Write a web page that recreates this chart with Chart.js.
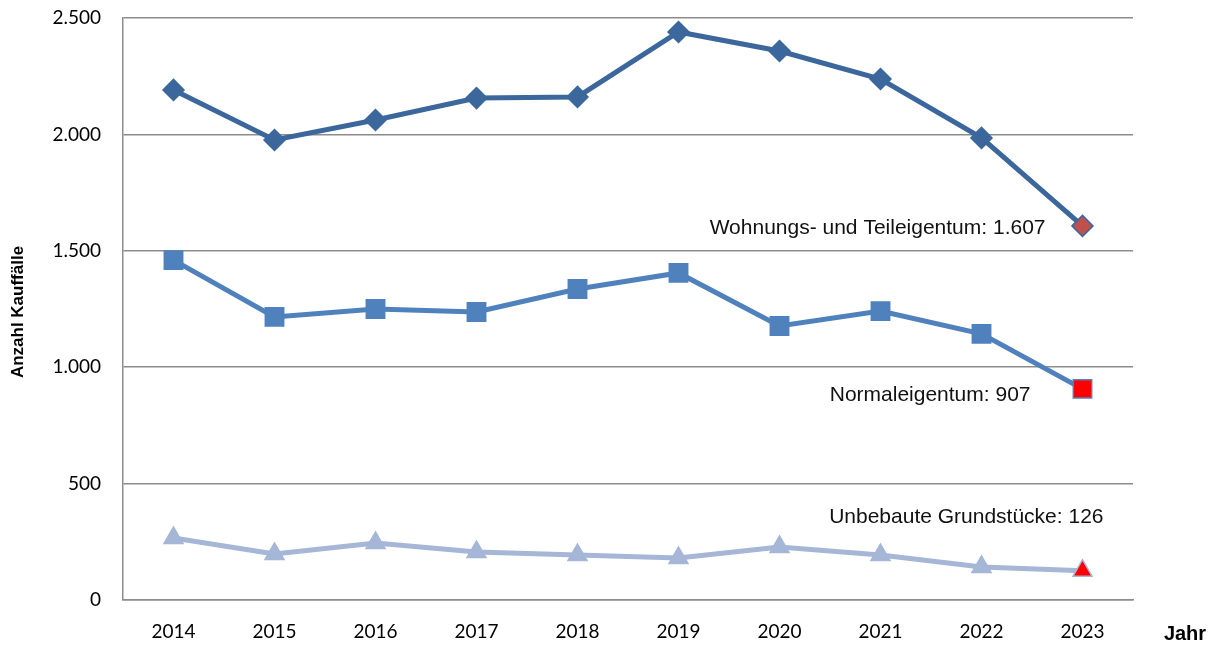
<!DOCTYPE html>
<html>
<head>
<meta charset="utf-8">
<script src="https://cdn.jsdelivr.net/npm/chart.js@4/dist/chart.umd.min.js"></script>
<style>
  html, body { margin: 0; padding: 0; background: #fff; }
  #wrap { width: 1226px; height: 645px; }
</style>
</head>
<body>
<div id="wrap"><canvas id="myChart"></canvas></div>
<script>
const years = ['2014', '2015', '2016', '2017', '2018', '2019', '2020', '2021', '2022', '2023'];
const wohnung = [2191, 1976, 2062, 2156, 2161, 2440, 2358, 2238, 1985, 1607];
const normal = [1460, 1216, 1250, 1237, 1336, 1405, 1177, 1241, 1143, 907];
const unbebaut = [266, 198, 245, 206, 193, 180, 228, 193, 142, 126];
const seriesNames = ['Wohnungs- und Teileigentum', 'Normaleigentum', 'Unbebaute Grundstücke'];
const yTicks = [0, 500, 1000, 1500, 2000, 2500];

function fmt(v) {
    return String(v).replace(/\B(?=(\d{3})+(?!\d))/g, '.');
}

// last point highlighted in a different colour
function lastColor(base, last, n) {
    const arr = [];
    for (let i = 0; i < n; i++) arr.push(i === n - 1 ? last : base);
    return arr;
}

const endLabels = {
    id: 'endLabels',
    afterDatasetsDraw(chart) {
        const ctx = chart.ctx;
        const offs = [[-37, 2, 'right'], [-52, 6, 'right'], [21, -53, 'right']];
        ctx.save();
        ctx.font = '21px "Liberation Sans", Arial, sans-serif';
        ctx.fillStyle = '#111';
        ctx.textBaseline = 'middle';
        chart.data.datasets.forEach(function(ds, i) {
            const pts = chart.getDatasetMeta(i).data;
            const p = pts[pts.length - 1];
            const v = ds.data[ds.data.length - 1];
            ctx.textAlign = offs[i][2];
            ctx.fillText(seriesNames[i] + ': ' + fmt(v), p.x + offs[i][0], p.y + offs[i][1]);
        });
        // axis titles
        ctx.fillStyle = '#000';
        ctx.font = 'bold 20px "Liberation Sans", Arial, sans-serif';
        ctx.textAlign = 'center';
        ctx.fillText('Jahr', 1185, 634);
        ctx.translate(18, 312);
        ctx.rotate(-Math.PI / 2);
        ctx.font = 'bold 17px "Liberation Sans", Arial, sans-serif';
        ctx.fillText('Anzahl Kauffälle', 0, 0);
        ctx.restore();
    }
};

const data = {
    labels: years,
    datasets: [
        {
            label: seriesNames[0],
            data: wohnung,
            borderColor: '#3C679C',
            borderWidth: 5,
            pointStyle: 'rectRot',
            pointRadius: 10.5,
            pointBorderWidth: 1.5,
            pointBackgroundColor: lastColor('#3C679C', '#C0504D', wohnung.length),
            pointBorderColor: '#3C679C'
        },
        {
            label: seriesNames[1],
            data: normal,
            borderColor: '#4F81BD',
            borderWidth: 5,
            pointStyle: 'rect',
            pointRadius: 13,
            pointBorderWidth: 1.5,
            pointBackgroundColor: lastColor('#4F81BD', '#FF0000', normal.length),
            pointBorderColor: '#4F81BD'
        },
        {
            label: seriesNames[2],
            data: unbebaut,
            borderColor: '#A5B6D6',
            borderWidth: 5,
            pointStyle: 'triangle',
            pointRadius: 11,
            pointBorderWidth: 1.5,
            pointBackgroundColor: lastColor('#A5B6D6', '#FF0000', unbebaut.length),
            pointBorderColor: '#A5B6D6'
        }
    ]
};

const config = {
    type: 'line',
    data: data,
    options: {
        responsive: true,
        maintainAspectRatio: false,
        animation: false,
        layout: {
            padding: { left: 0, right: 93, top: 18, bottom: 0 }
        },
        elements: {
            line: { tension: 0 }
        },
        scales: {
            x: {
                offset: true,
                grid: { display: false, drawTicks: false },
                border: { display: true, color: '#8C8C8C', width: 1.5 },
                ticks: {
                    padding: 20,
                    color: '#000',
                    font: { family: 'Lato', size: 19 }
                },
                afterFit: function(scale) {
                    scale.height = 45;
                    scale.paddingLeft = 0;
                    scale.paddingRight = 0;
                }
            },
            y: {
                min: 0,
                max: 2500,
                afterBuildTicks: function(scale) {
                    scale.ticks = yTicks.map(function(v) { return { value: v }; });
                },
                grid: { color: '#8C8C8C', lineWidth: 1.5, drawTicks: false },
                border: { display: true, color: '#8C8C8C', width: 1.5 },
                ticks: {
                    padding: 22,
                    color: '#000',
                    font: { family: 'Lato', size: 19 },
                    callback: function(v) { return fmt(v); }
                },
                afterFit: function(scale) {
                    scale.width = 123;
                    scale.paddingTop = 0;
                    scale.paddingBottom = 0;
                }
            }
        },
        plugins: {
            legend: { display: false },
            tooltip: { enabled: false }
        }
    },
    plugins: [endLabels]
};

var myChart = new Chart(document.getElementById('myChart'), config);
</script>
</body>
</html>
